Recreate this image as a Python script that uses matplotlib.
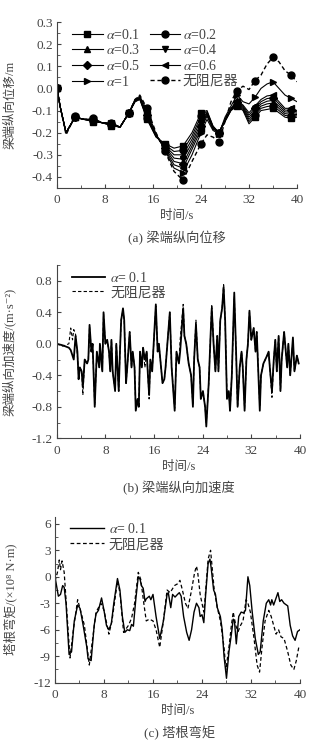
import matplotlib
matplotlib.use('Agg')
import matplotlib.pyplot as plt
from matplotlib.ticker import MultipleLocator, FormatStrFormatter

plt.rcParams['font.family'] = ['Liberation Serif', 'Noto Sans CJK SC', 'DejaVu Sans']
plt.rcParams['mathtext.fontset'] = 'stix'
plt.rcParams['axes.unicode_minus'] = False
grey = '#444444'
plt.rcParams['text.color'] = grey
plt.rcParams['axes.labelcolor'] = grey
plt.rcParams['xtick.color'] = grey
plt.rcParams['ytick.color'] = grey
plt.rcParams['axes.edgecolor'] = grey

# ---- (a) beam-end longitudinal displacement ----
t_a = [0, 0.5, 1.5, 3, 4.5, 6, 7.5, 9, 10.5, 12, 13, 13.8, 15, 16.5, 18, 19.5, 21, 22.5,
       24, 25, 26, 27, 28, 29, 30, 31, 32, 33, 34, 35, 36, 37, 38, 39, 40]
d_01 = [0, -0.08, -0.2, -0.13, -0.14, -0.15, -0.155, -0.168, -0.175, -0.11, -0.06,
        -0.05, -0.14, -0.22, -0.25, -0.27, -0.26, -0.2, -0.11, -0.1, -0.17, -0.2, -0.15, -0.1,
        -0.08, -0.1, -0.16, -0.13, -0.1, -0.095, -0.09, -0.11, -0.13, -0.135, -0.13]
d_02 = [0, -0.08, -0.2, -0.13, -0.14, -0.148, -0.155, -0.166, -0.175, -0.11, -0.06,
        -0.048, -0.135, -0.218, -0.255, -0.285, -0.28, -0.215, -0.125, -0.105, -0.172, -0.2, -0.148, -0.098,
        -0.075, -0.095, -0.15, -0.12, -0.09, -0.082, -0.078, -0.1, -0.122, -0.126, -0.124]
d_03 = [0, -0.08, -0.2, -0.13, -0.14, -0.146, -0.155, -0.164, -0.175, -0.11, -0.058,
        -0.046, -0.13, -0.216, -0.26, -0.3, -0.3, -0.23, -0.14, -0.11, -0.175, -0.2, -0.146, -0.096,
        -0.07, -0.09, -0.14, -0.11, -0.08, -0.07, -0.066, -0.09, -0.114, -0.117, -0.118]
d_04 = [0, -0.08, -0.2, -0.13, -0.14, -0.144, -0.155, -0.162, -0.175, -0.11, -0.056,
        -0.044, -0.125, -0.214, -0.265, -0.315, -0.32, -0.245, -0.155, -0.115, -0.178, -0.2, -0.144, -0.094,
        -0.065, -0.085, -0.13, -0.1, -0.07, -0.058, -0.054, -0.08, -0.106, -0.108, -0.112]
d_05 = [0, -0.08, -0.2, -0.13, -0.14, -0.142, -0.155, -0.16, -0.175, -0.11, -0.054,
        -0.042, -0.12, -0.212, -0.27, -0.33, -0.34, -0.26, -0.17, -0.12, -0.181, -0.2, -0.142, -0.092,
        -0.06, -0.08, -0.12, -0.09, -0.06, -0.046, -0.042, -0.07, -0.098, -0.099, -0.106]
d_06 = [0, -0.08, -0.2, -0.13, -0.14, -0.14, -0.155, -0.158, -0.175, -0.11, -0.052,
        -0.04, -0.115, -0.21, -0.275, -0.345, -0.36, -0.275, -0.185, -0.125, -0.184, -0.2, -0.14, -0.09,
        -0.055, -0.075, -0.11, -0.08, -0.05, -0.034, -0.03, -0.06, -0.09, -0.09, -0.1]
d_1 = [0, -0.08, -0.2, -0.13, -0.14, -0.138, -0.155, -0.157, -0.175, -0.11, -0.05,
       -0.035, -0.1, -0.205, -0.28, -0.36, -0.38, -0.3, -0.2, -0.14, -0.19, -0.205, -0.13, -0.08,
       -0.03, -0.06, -0.07, -0.04, 0.0, 0.02, 0.03, 0.0, -0.03, -0.045, -0.06]
d_none = [0, -0.08, -0.21, -0.125, -0.14, -0.135, -0.155, -0.155, -0.175, -0.11, -0.05,
          -0.03, -0.09, -0.2, -0.285, -0.375, -0.415, -0.33, -0.25, -0.21, -0.22, -0.24, -0.15, -0.06,
          -0.01, 0.01, -0.005, 0.035, 0.06, 0.11, 0.14, 0.12, 0.08, 0.06, 0.03]
labels_a = [r'$\alpha$=0.1', r'$\alpha$=0.2', r'$\alpha$=0.3', r'$\alpha$=0.4',
            r'$\alpha$=0.5', r'$\alpha$=0.6', r'$\alpha$=1', '无阻尼器']

# ---- (b) beam-end longitudinal acceleration ----
t_b = [0, 1, 2, 2.3, 2.6, 2.8, 3.1, 3.4, 3.6, 3.8,
       4.1, 4.3, 4.6, 5.0, 5.2, 5.4, 5.7, 5.9, 6.25, 6.6,
       7.0, 7.1, 7.5, 7.7, 8.0, 8.3, 8.6, 8.8, 9.0, 9.2,
       9.6, 9.8, 10.2, 10.4, 10.6, 10.9, 11.1, 11.4, 11.6, 12.0,
       12.3, 12.5, 12.8, 13.0, 13.3, 13.5, 13.7, 14.0, 14.2, 14.5,
       14.8, 15.0, 15.2, 15.4, 15.7, 16.3, 16.6, 16.8, 17.4, 17.7,
       17.9, 18.6, 18.9, 19.4, 19.7, 20.1, 20.3, 20.8, 21.0, 21.3,
       21.7, 22.1, 22.4, 22.6, 22.9, 23.2, 23.5, 23.7, 24.05, 24.4,
       24.6, 25.0, 25.3, 25.5, 25.8, 26.1, 26.4, 26.6, 26.9, 27.2,
       27.45, 27.7, 28.0, 28.3, 28.5, 28.8, 29.2, 29.5, 29.75, 30.1,
       30.4, 30.6, 30.9, 31.2, 31.45, 31.7, 32.0, 32.4, 32.7, 32.9,
       33.4, 33.6, 34.0, 34.3, 34.6, 34.85, 35.1, 35.4, 35.7, 35.95,
       36.2, 36.5, 36.8, 37.0, 37.4, 37.9, 38.1, 38.4, 38.85, 39.1,
       39.5, 39.8]
acc_01 = [0, -0.02, -0.05, -0.08, -0.15, -0.2, 0.1, -0.1, -0.45, -0.3,
          -0.35, -0.55, -0.2, -0.25, -0.2, 0.24, -0.1, 0.0, -0.8, -0.1,
          -0.3, 0.0, -0.35, 0.4, 0.0, 0.05, -0.1, -0.35, 0.05, -0.35,
          -0.6, 0.0, -0.6, -0.1, 0.3, 0.45, 0.3, -0.5, -0.3, 0.15,
          -0.3, -0.1, -0.3, -0.85, -0.7, -0.8, -0.1, -0.3, -0.05, -0.2,
          -0.1, -0.4, -0.65, -0.2, -0.35, 0.5, -0.1, 0.0, -0.5, -0.45,
          -0.3, 0.4, -0.3, -0.85, -0.1, -0.25, -0.1, 0.45, 0.1, 0.0,
          -0.25, -0.4, -0.8, -0.2, 0.25, -0.2, -0.3, -0.7, -0.6, -0.8,
          -1.05, -0.5, 0.1, 0.45, 0.0, -0.35, 0.1, -0.35, 0.3, 0.45,
          0.72, 0.3, -0.7, -0.6, -0.85, -0.4, 0.65, -0.1, -0.8, -0.3,
          -0.1, -0.3, -0.85, -0.2, 0.0, 0.42, 0.05, 0.2, -0.1, 0.15,
          -0.85, -0.4, -0.25, -0.2, -0.15, -0.1, -0.35, -0.6, -0.2, 0.05,
          -0.35, 0.1, -0.6, -0.2, 0.15, -0.3, 0.0, -0.4, 0.08, -0.35,
          -0.15, -0.25]
acc_none = [0, -0.03, 0.0, 0.2, 0.05, 0.18, 0.12, -0.15, -0.4, -0.3,
            -0.35, -0.65, -0.2, -0.25, -0.2, 0.22, -0.1, 0.0, -0.78, -0.1,
            -0.3, 0.0, -0.35, 0.38, 0.0, 0.05, -0.1, -0.35, 0.05, -0.35,
            -0.58, 0.0, -0.6, -0.1, 0.3, 0.43, 0.3, -0.5, -0.3, 0.15,
            -0.3, -0.1, -0.3, -0.82, -0.7, -0.8, -0.1, -0.3, -0.05, -0.3,
            -0.1, -0.4, -0.7, -0.2, -0.35, 0.48, -0.1, 0.0, -0.5, -0.45,
            -0.3, 0.4, -0.3, -0.82, -0.1, -0.25, 0.05, 0.5, 0.1, 0.0,
            -0.25, -0.4, -0.78, -0.2, 0.3, -0.2, -0.3, -0.7, -0.6, -0.8,
            -1.0, -0.5, 0.1, 0.5, 0.0, -0.35, 0.1, -0.35, 0.3, 0.45,
            0.75, 0.3, -0.65, -0.6, -0.85, -0.4, 0.6, -0.1, -0.8, -0.3,
            -0.1, -0.3, -0.82, -0.2, 0.0, 0.4, 0.05, 0.2, -0.1, 0.15,
            -0.8, -0.4, -0.25, -0.2, -0.15, -0.1, -0.35, -0.68, -0.2, 0.05,
            -0.35, 0.1, -0.6, -0.2, 0.15, -0.3, 0.0, -0.4, 0.05, -0.35,
            -0.15, -0.25]

# ---- (c) tower-base bending moment ----
t_c1 = [0, 0.55, 0.9, 1.25, 1.5, 1.8, 2.3, 2.7, 3.15, 3.7,
        4.1, 4.6, 5.2, 5.4, 5.9, 6.4, 6.7, 7.1, 7.6, 8.0,
        8.4, 8.8, 9.2, 9.6, 10.2, 10.6, 11.0, 11.4, 11.8, 12.2,
        12.5, 12.8, 13.2, 13.6, 13.9, 14.1, 14.4, 14.7, 14.9, 15.4,
        15.65, 16.0, 16.5, 17.1, 17.7, 18.3, 18.5, 18.9, 19.2, 19.6,
        20.0, 20.3, 20.6, 21.0, 21.5, 21.9, 22.3, 22.7, 23.1, 23.5,
        23.7, 24.0, 24.3, 24.6, 25.0, 25.3, 25.5, 25.9, 26.2, 26.5,
        27.0, 27.3, 27.6, 28.0, 28.4, 28.8, 29.1, 29.3, 29.6, 30.0,
        30.4, 30.8, 31.1, 31.5, 31.8, 32.2, 32.7, 33.2, 33.5, 34.0,
        34.5, 34.9, 35.2, 35.4, 35.7, 36.0, 36.4, 36.7, 37.0, 37.4,
        38.0, 38.4, 38.8, 39.2, 39.6, 40.0]
m_01 = [0, -2.2, -2.0, -1.0, -1.2, -3, -8.8, -8.5, -5, -3.2,
        -3.6, -5.5, -8, -9.3, -9.5, -5.5, -4.2, -3.8, -2.4, -3.8,
        -5.5, -6.0, -5.3, -3.0, -0.2, -1.5, -4.5, -6.3, -6.0, -6.1,
        -5.4, -5.6, -2.5, 0, -0.3, -1.0, -1.3, -2.8, -2.5, -2.2,
        -2.6, -2.0, -4.5, -7.0, -5, -2.0, -1.8, -3.5, -2.0, -2.3,
        -2.0, -1.8, -2.2, -4.5, -6.3, -7.2, -6, -4, -3.0, -3.5,
        -4.5, -4.3, -5.2, -2, 1.5, 2.0, 1.0, -1.5, -2.0, -3.5,
        -4.5, -6, -9, -11.5, -8.5, -6.5, -4.8, -5.0, -7.6, -4.5,
        -4.0, -4.1, -3.8, 0, -1, -4, -7, -8.8, -8.5, -5,
        -3.0, -2.6, -3.2, -2.6, -3.2, -2.6, -1.8, -2.8, -2.6, -3.0,
        -3.3, -5.5, -6.7, -7.2, -6.2, -6.0]
t_c2 = [0, 0.4, 0.7, 0.9, 1.15, 1.5, 2.45, 3.0, 3.7, 4.8,
        5.6, 6.7, 7.5, 8.0, 8.8, 9.3, 10.2, 10.6, 11.2, 12.0,
        12.5, 13.0, 13.6, 14.0, 14.5, 14.9, 15.4, 16.0, 16.5, 17.1,
        17.7, 18.3, 18.8, 19.5, 20.0, 20.4, 20.8, 21.3, 21.7, 22.3,
        22.8, 23.1, 23.3, 23.7, 24.3, 24.5, 25.0, 25.4, 25.6, 26.0,
        26.5, 27.0, 27.6, 27.9, 28.4, 28.8, 29.1, 29.5, 29.9, 30.3,
        30.7, 31.2, 31.5, 31.9, 32.5, 33.0, 33.4, 33.8, 34.3, 34.9,
        35.3, 35.7, 36.1, 36.5, 36.9, 37.4, 38.0, 38.5, 39.0, 39.4,
        39.8, 40.0]
m_none = [-0.5, 0.5, 1.9, 0.8, 1.8, 0.5, -9.2, -6, -2.6, -5.5,
          -10.0, -4, -3, -3.8, -6.5, -5, -0.5, -1.8, -6.3, -5.5,
          -4.7, -3, 0.5, -0.3, -3, -5, -4.8, -5, -6, -8,
          -5, -1.5, -1.8, -1.0, -0.8, -0.4, -1.5, -3, -3.6, -1.5,
          0.5, 1.2, 0.5, -2, -4, -2.5, 2.0, 3.0, 1.5, -1.5,
          -3.5, -5, -8, -10.5, -8, -5.5, -4, -5.5, -6.2, -5.5,
          -5.0, -2.6, -3.0, -4, -7, -10, -10.8, -8, -5, -3.8,
          -4.5, -5.5, -6.5, -6, -6.8, -7.0, -8.5, -10, -10.5, -9.5,
          -8, -7.8]

fig = plt.figure(figsize=(3.26, 7.49), dpi=100)


def style(ax, ylo, yhi, ymaj, ylab, ylab_x):
    ax.set_xlim(0, 40)
    ax.set_ylim(ylo, yhi)
    ax.xaxis.set_major_locator(MultipleLocator(8))
    ax.xaxis.set_minor_locator(MultipleLocator(4))
    ax.yaxis.set_major_locator(MultipleLocator(ymaj))
    ax.yaxis.set_minor_locator(MultipleLocator(ymaj / 2))
    ax.spines['top'].set_visible(False)
    ax.spines['right'].set_visible(False)
    ax.tick_params(which='both', direction='in', labelsize=9.5)
    ax.tick_params(axis='x', pad=4.5)
    ax.tick_params(axis='y', pad=3)
    ax.tick_params(which='major', length=3)
    ax.tick_params(which='minor', length=2)
    ax.set_xlabel('时间/s', fontsize=9, labelpad=3)
    ax.set_ylabel(ylab, fontsize=9)
    ax.yaxis.set_label_coords(ylab_x, 0.5)


# (a)
ax1 = fig.add_axes([0.175, 0.749, 0.736, 0.2216])
markers = ['s', 'o', '^', 'v', 'D', '<', '>']
series_a = [d_01, d_02, d_03, d_04, d_05, d_06, d_1]
mark_idx = [0, 3, 5, 7, 9, 12, 14, 16, 18, 21, 24, 27, 30, 33]
for y, m, lab in zip(series_a, markers, labels_a[:7]):
    ax1.plot(t_a, y, color='black', lw=0.8, marker=m,
             ms=4.2 if m == 'D' else 5, markevery=mark_idx, label=lab)
ax1.plot(t_a, d_none, color='black', lw=1.0, ls=(0, (3, 2)), marker='o', ms=5,
         markevery=mark_idx, label=labels_a[7])
style(ax1, -0.45, 0.3, 0.1, '梁端纵向位移/m', -0.17)
ax1.yaxis.set_major_formatter(FormatStrFormatter('%.1f'))
h, l = ax1.get_legend_handles_labels()
order = [0, 2, 4, 6, 1, 3, 5, 7]
ax1.legend([h[i] for i in order], [l[i] for i in order], ncol=2, loc='upper left',
           bbox_to_anchor=(0.04, 1.0), frameon=False, fontsize=10, handlelength=2.2,
           handletextpad=0.2, columnspacing=0.7, labelspacing=0.12, borderaxespad=0)
fig.text(0.543, 1 - 238 / 749, '(a) 梁端纵向位移', ha='center', va='center', fontsize=9.5)

# (b)
ax2 = fig.add_axes([0.174, 0.4148, 0.746, 0.2314])
ax2.plot(t_b, acc_none, color='black', lw=0.8, ls=(0, (3, 2)), label='无阻尼器')
ax2.plot(t_b, acc_01, color='black', lw=1.3, label=r'$\alpha$= 0.1')
style(ax2, -1.2, 1.0, 0.4, '梁端纵向加速度/(m·s⁻²)', -0.17)
ax2.yaxis.set_major_formatter(FormatStrFormatter('%.1f'))
h, l = ax2.get_legend_handles_labels()
ax2.legend([h[1], h[0]], [l[1], l[0]], loc='upper left', bbox_to_anchor=(0.04, 1.0),
           frameon=False, fontsize=10, handlelength=2.4, handletextpad=0.35,
           labelspacing=0.12, borderaxespad=0)
fig.text(0.55, 1 - 488 / 749, '(b) 梁端纵向加速度', ha='center', va='center', fontsize=9.5)

# (c)
ax3 = fig.add_axes([0.1687, 0.0885, 0.7515, 0.2216])
ax3.plot(t_c2, m_none, color='black', lw=0.9, ls=(0, (3, 2)), label='无阻尼器')
ax3.plot(t_c1, m_01, color='black', lw=1.0, label=r'$\alpha$= 0.1')
style(ax3, -12, 6.8, 3, '塔根弯矩/(×10⁸ N·m)', -0.155)
h, l = ax3.get_legend_handles_labels()
ax3.legend([h[1], h[0]], [l[1], l[0]], loc='upper left', bbox_to_anchor=(0.04, 1.0),
           frameon=False, fontsize=10, handlelength=2.4, handletextpad=0.35,
           labelspacing=0.12, borderaxespad=0)
fig.text(0.55, 1 - 733 / 749, '(c) 塔根弯矩', ha='center', va='center', fontsize=9.5)

fig.savefig('out.png', dpi=100)
